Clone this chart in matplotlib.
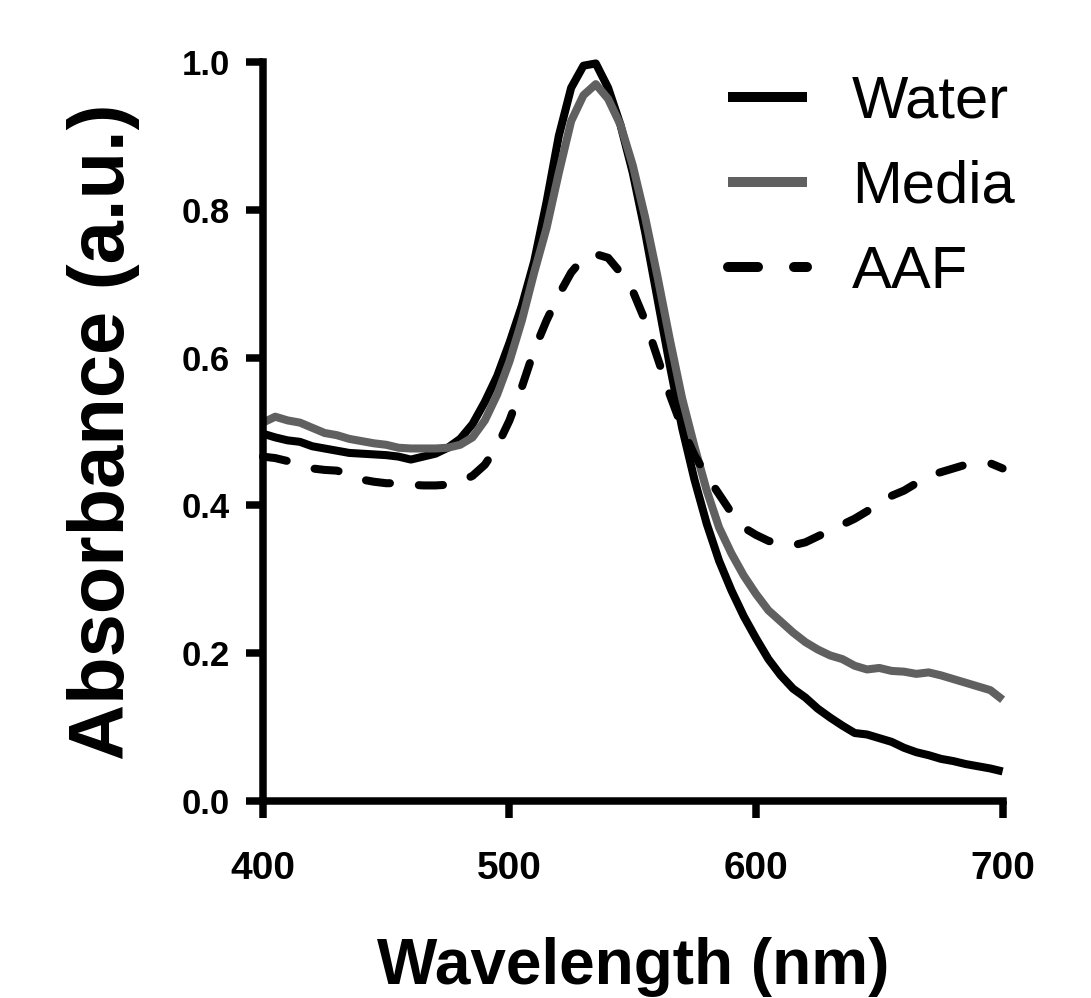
import numpy as np
import matplotlib
matplotlib.use("Agg")
import matplotlib.pyplot as plt

wavelength = list(range(400, 701, 5))

water = [0.497, 0.492, 0.488, 0.486, 0.480, 0.477, 0.474, 0.471, 0.470, 0.469,
         0.468, 0.466, 0.462, 0.466, 0.470, 0.478, 0.490, 0.510, 0.540, 0.575,
         0.620, 0.670, 0.730, 0.810, 0.900, 0.965, 0.995, 0.998, 0.965, 0.915,
         0.850, 0.770, 0.680, 0.590, 0.505, 0.435, 0.375, 0.325, 0.285, 0.250,
         0.220, 0.192, 0.170, 0.152, 0.140, 0.125, 0.113, 0.102, 0.092, 0.090,
         0.085, 0.080, 0.072, 0.066, 0.062, 0.057, 0.054, 0.050, 0.047, 0.044,
         0.040]

media = [0.512, 0.520, 0.515, 0.512, 0.505, 0.498, 0.495, 0.490, 0.487, 0.484,
         0.482, 0.478, 0.477, 0.477, 0.477, 0.478, 0.482, 0.492, 0.515, 0.550,
         0.595, 0.650, 0.715, 0.775, 0.850, 0.920, 0.955, 0.970, 0.950, 0.915,
         0.860, 0.790, 0.710, 0.625, 0.545, 0.480, 0.420, 0.370, 0.335, 0.305,
         0.280, 0.258, 0.243, 0.228, 0.215, 0.205, 0.197, 0.192, 0.183, 0.178,
         0.180, 0.176, 0.175, 0.172, 0.174, 0.170, 0.165, 0.160, 0.155, 0.150,
         0.137]

aaf = [0.466, 0.464, 0.460, 0.455, 0.450, 0.448, 0.447, 0.442, 0.435, 0.432,
       0.430, 0.430, 0.428, 0.427, 0.427, 0.428, 0.432, 0.440, 0.455, 0.480,
       0.515, 0.560, 0.610, 0.650, 0.685, 0.715, 0.735, 0.740, 0.735, 0.715,
       0.690, 0.650, 0.600, 0.550, 0.505, 0.468, 0.440, 0.415, 0.390, 0.370,
       0.360, 0.352, 0.347, 0.346, 0.350, 0.358, 0.366, 0.374, 0.382, 0.392,
       0.405, 0.413, 0.420, 0.430, 0.440, 0.445, 0.450, 0.455, 0.456, 0.457,
       0.450]

series_labels = ["Water", "Media", "AAF"]
x_ticks = [400, 500, 600, 700]
y_ticks = [0.0, 0.2, 0.4, 0.6, 0.8, 1.0]

plt.rcParams['font.family'] = ['Liberation Sans', 'DejaVu Sans']

fig = plt.figure(figsize=(10.91, 9.98), dpi=100)
ax = fig.add_axes([0.241, 0.1974, 0.678, 0.7405])

lw = 5.8
ax.plot(wavelength, water, color='black', lw=lw, solid_capstyle='butt',
        label=series_labels[0], clip_on=False)
ax.plot(wavelength, media, color='#606060', lw=lw, solid_capstyle='butt',
        label=series_labels[1], clip_on=False)
ax.plot(wavelength, aaf, color='black', lw=lw, linestyle=(0, (3.0, 3.6)),
        dash_capstyle='round', label=series_labels[2], clip_on=False)

ax.set_xlim(400, 700)
ax.set_ylim(0.0, 1.0)
ax.set_xticks(x_ticks)
ax.set_yticks(y_ticks)
ax.set_yticklabels([f"{v:.1f}" for v in y_ticks])

for s in ['top', 'right']:
    ax.spines[s].set_visible(False)
for s in ['left', 'bottom']:
    ax.spines[s].set_linewidth(5.4)
    ax.spines[s].set_capstyle('projecting')

ax.tick_params(axis='both', direction='out', length=12, width=5.4)
ax.tick_params(axis='x', pad=24, labelsize=28)
ax.tick_params(axis='y', pad=12, labelsize=25)
for lab in ax.get_xticklabels() + ax.get_yticklabels():
    lab.set_fontweight('bold')

ax.set_xlabel("Wavelength (nm)", fontsize=46, fontweight='bold', labelpad=36)
ax.set_ylabel("Absorbance (a.u.)", fontsize=56, fontweight='bold', labelpad=30)

leg = ax.legend(loc='upper left', bbox_to_anchor=(0.596, 1.015), frameon=False,
                fontsize=43, handlelength=1.33, handletextpad=0.75,
                labelspacing=0.5, borderaxespad=0)
for h in leg.get_lines():
    h.set_linewidth(7.2)

fig.savefig("out.png", dpi=100)
